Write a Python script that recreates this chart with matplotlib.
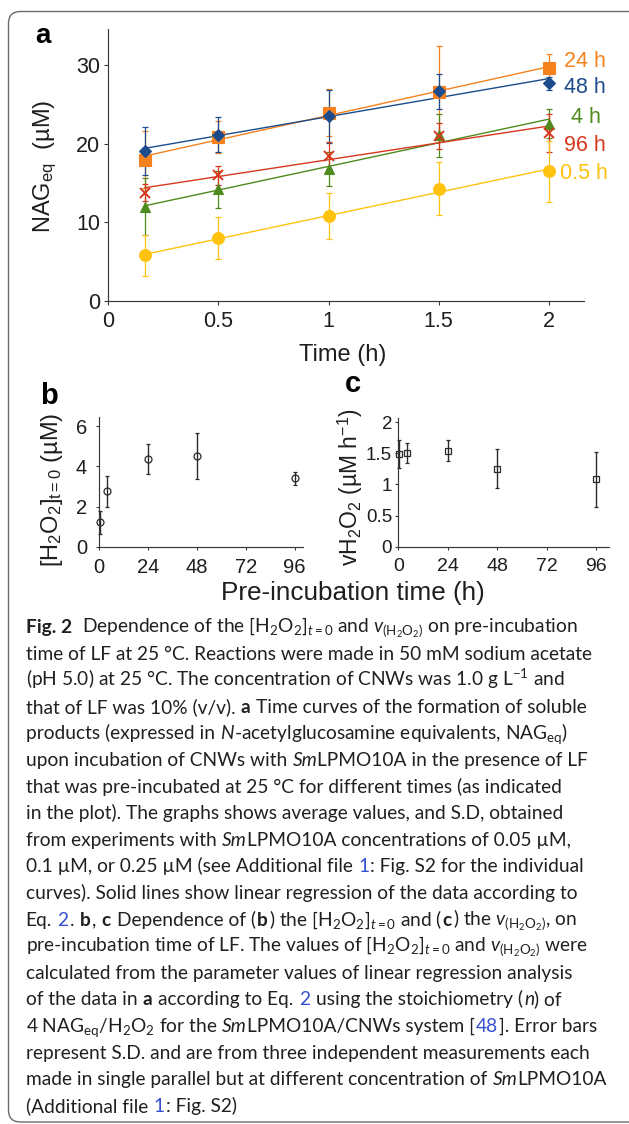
import re
import numpy as np
import matplotlib
matplotlib.use("Agg")
import matplotlib.pyplot as plt
from matplotlib.patches import FancyBboxPatch
from matplotlib.ticker import FuncFormatter
from matplotlib.transforms import IdentityTransform

# ---------------- data ----------------
time_h = [1 / 6, 0.5, 1.0, 1.5, 2.0]
series_labels = ["24 h", "48 h", "4 h", "96 h", "0.5 h"]
nag_24h = [18.0, 20.9, 24.0, 26.6, 29.7]
err_24h = [3.6, 2.0, 3.0, 5.9, 1.7]
nag_48h = [19.1, 21.2, 23.5, 26.7, 27.7]
err_48h = [3.0, 2.2, 3.4, 2.2, 0.8]
nag_4h = [12.0, 14.2, 16.8, 21.1, 22.6]
err_4h = [3.6, 2.3, 2.2, 2.7, 1.9]
nag_96h = [13.8, 16.0, 18.5, 21.0, 21.4]
err_96h = [1.1, 1.2, 1.7, 1.7, 2.4]
nag_05h = [5.8, 8.0, 10.8, 14.3, 16.5]
err_05h = [2.6, 2.7, 2.9, 3.4, 3.9]

preinc_h = [0.5, 4, 24, 48, 96]
h2o2_t0 = [1.21, 2.75, 4.36, 4.53, 3.40]
h2o2_t0_err = [0.58, 0.76, 0.76, 1.14, 0.34]
v_h2o2 = [1.49, 1.50, 1.54, 1.25, 1.08]
v_h2o2_err = [0.22, 0.16, 0.17, 0.31, 0.44]

a_xticks = [0, 0.5, 1, 1.5, 2]
a_yticks = [0, 10, 20, 30]
bc_xticks = [0, 24, 48, 72, 96]
b_yticks = [0, 2, 4, 6]
c_yticks = [0, 0.5, 1, 1.5, 2]

CAPTION = [
    r"**Fig. 2**  Dependence of the [H$_{\mathregular{2}}$O$_{\mathregular{2}}$]$_{t\mathregular{=0}}$ and $v_{\mathregular{(H_2O_2)}}$ on pre-incubation",
    r"time of LF at 25 °C. Reactions were made in 50 mM sodium acetate",
    r"(pH 5.0) at 25 °C. The concentration of CNWs was 1.0 g L$^{\mathregular{-1}}$ and",
    r"that of LF was 10% (v/v). **a** Time curves of the formation of soluble",
    r"products (expressed in //N//-acetylglucosamine equivalents, NAG$_{\mathregular{eq}}$)",
    r"upon incubation of CNWs with //Sm//LPMO10A in the presence of LF",
    r"that was pre-incubated at 25 °C for different times (as indicated",
    r"in the plot). The graphs shows average values, and S.D, obtained",
    r"from experiments with //Sm//LPMO10A concentrations of 0.05 µM,",
    r"0.1 µM, or 0.25 µM (see Additional file {{1}}: Fig. S2 for the individual",
    r"curves). Solid lines show linear regression of the data according to",
    r"Eq. {{2}}. **b**, **c** Dependence of (**b**) the [H$_{\mathregular{2}}$O$_{\mathregular{2}}$]$_{t\mathregular{=0}}$ and (**c**) the $v_{\mathregular{(H_2O_2)}}$, on",
    r"pre-incubation time of LF. The values of [H$_{\mathregular{2}}$O$_{\mathregular{2}}$]$_{t\mathregular{=0}}$ and $v_{\mathregular{(H_2O_2)}}$ were",
    r"calculated from the parameter values of linear regression analysis",
    r"of the data in **a** according to Eq. {{2}} using the stoichiometry (//n//) of",
    r"4 NAG$_{\mathregular{eq}}$/H$_{\mathregular{2}}$O$_{\mathregular{2}}$ for the //Sm//LPMO10A/CNWs system [{{48}}]. Error bars",
    r"represent S.D. and are from three independent measurements each",
    r"made in single parallel but at different concentration of //Sm//LPMO10A",
    r"(Additional file {{1}}: Fig. S2)",
]

# ---------------- style ----------------
PLOT_FONT = ["Liberation Sans", "DejaVu Sans"]
CAP_FONT = ["Lato", "DejaVu Sans"]
plt.rcParams["font.family"] = PLOT_FONT
plt.rcParams["mathtext.fontset"] = "custom"
plt.rcParams["mathtext.rm"] = "Lato"
plt.rcParams["mathtext.it"] = "Lato:italic"
plt.rcParams["mathtext.bf"] = "Lato:bold"

W, H = 629, 1124
fig = plt.figure(figsize=(W / 100, H / 100), dpi=100)
renderer = fig.canvas.get_renderer()


def fx(px):
    return px / W


def fy(py):
    return 1 - py / H


AX_COL = "#383838"
TXT_COL = "#1e1e1e"

# frame
frame = FancyBboxPatch((8.5, H - 1122), 700, 1122 - 11.5,
                       boxstyle="round,pad=0,rounding_size=12",
                       transform=IdentityTransform(), fill=False,
                       edgecolor="#6a6a6a", linewidth=1.0)
fig.add_artist(frame)


def style_axes(ax, tlen, xpad, ypad, lsize):
    for s in ("top", "right"):
        ax.spines[s].set_visible(False)
    for s in ("left", "bottom"):
        ax.spines[s].set_color(AX_COL)
        ax.spines[s].set_linewidth(0.85)
    ax.tick_params(axis="both", direction="out", length=tlen, width=0.8,
                   colors=AX_COL, labelcolor=TXT_COL, labelsize=lsize)
    ax.tick_params(axis="x", pad=xpad)
    ax.tick_params(axis="y", pad=ypad)
    ax.xaxis.set_major_formatter(FuncFormatter(lambda v, p: "%g" % v))
    ax.yaxis.set_major_formatter(FuncFormatter(lambda v, p: "%g" % v))
    ax.patch.set_alpha(0)


# ---------------- panel a ----------------
ax_a = fig.add_axes([fx(108.3), fy(301), fx(584) - fx(108.3), (301 - 29.3) / H])
ax_a.set_xlim(0, 2.16)
ax_a.set_ylim(0, 34.6)
ax_a.set_xticks(a_xticks)
ax_a.set_yticks(a_yticks)
style_axes(ax_a, 2.9, 4.5, 3.1, 15.5)

series = [nag_24h, nag_48h, nag_4h, nag_96h, nag_05h]
errors = [err_24h, err_48h, err_4h, err_96h, err_05h]
colors = ["#F5821F", "#1C4C8C", "#4E8A1E", "#D6381E", "#FFC20E"]
markers = ["s", "D", "^", "x", "o"]
msizes = [8.5, 6.3, 7.5, 7.5, 8.5]
label_pos = [(2.068, 29.77), (2.068, 26.54), (2.099, 22.64), (2.068, 19.11), (2.053, 15.50)]

for y, e, c, m, ms, lab, (lx, ly) in zip(series, errors, colors, markers, msizes,
                                          series_labels, label_pos):
    coef = np.polyfit(time_h, y, 1)
    xs = np.array([time_h[0], time_h[-1]])
    ax_a.plot(xs, np.polyval(coef, xs), color=c, lw=1.0, zorder=2)
    ax_a.errorbar(time_h, y, yerr=e, fmt="none", ecolor=c, elinewidth=0.9,
                  capsize=2.5, capthick=0.9, zorder=3)
    ax_a.plot(time_h, y, ls="none", marker=m, ms=ms, color=c, mec=c,
              mew=1.4 if m == "x" else 0.8, zorder=4, clip_on=False)
    ax_a.text(lx, ly, lab, color=c, fontsize=15.5, ha="left", va="baseline",
              clip_on=False)

fig.text(fx(35), fy(43.3), "a", fontsize=20, fontweight="bold", color="black",
         va="baseline", ha="left")
fig.text(fx(342.4), fy(361), "Time (h)", fontsize=17, color=TXT_COL,
         ha="center", va="baseline")
fig.text(fx(50.5), fy(166.7), r"NAG$_{\mathregular{eq}}$  (µM)", fontsize=17,
         color=TXT_COL, rotation=90, rotation_mode="anchor", ha="center",
         va="baseline")

# ---------------- panel b ----------------
ax_b = fig.add_axes([fx(99), fy(546.7), (302.7 - 99) / W, (546.7 - 416.7) / H])
ax_b.set_xlim(0, 100)
ax_b.set_ylim(0, 6.47)
ax_b.set_xticks(bc_xticks)
ax_b.set_yticks(b_yticks)
style_axes(ax_b, 2.4, 5.8, 6.3, 14.5)
ax_b.errorbar(preinc_h, h2o2_t0, yerr=h2o2_t0_err, fmt="o", ms=5.0, mfc="none",
              mec="#2a2a2a", mew=0.9, ecolor="#2a2a2a", elinewidth=1.0,
              capsize=1.6, capthick=1.0, clip_on=False)

# ---------------- panel c ----------------
ax_c = fig.add_axes([fx(398.3), fy(546.7), (609.3 - 398.3) / W, (546.7 - 417.7) / H])
ax_c.set_xlim(0, 102.5)
ax_c.set_ylim(0, 2.07)
ax_c.set_xticks(bc_xticks)
ax_c.set_yticks(c_yticks)
style_axes(ax_c, 2.4, 5.8, 2.0, 14.0)
ax_c.tick_params(axis="y", labelsize=13.5)
ax_c.errorbar(preinc_h, v_h2o2, yerr=v_h2o2_err, fmt="s", ms=4.6, mfc="none",
              mec="#2a2a2a", mew=0.9, ecolor="#2a2a2a", elinewidth=1.0,
              capsize=1.6, capthick=1.0, clip_on=False)

fig.text(fx(40), fy(404), "b", fontsize=21, fontweight="bold", color="black",
         va="baseline", ha="left")
fig.text(fx(345), fy(391.7), "c", fontsize=21, fontweight="bold", color="black",
         va="baseline", ha="left")
fig.text(fx(58), fy(490),
         r"[H$_{\mathregular{2}}$O$_{\mathregular{2}}$]$_{\mathregular{t=0}}$ (µM)",
         fontsize=17, color=TXT_COL, rotation=90, rotation_mode="anchor",
         ha="center", va="baseline")
fig.text(fx(357.5), fy(487),
         r"vH$_{\mathregular{2}}$O$_{\mathregular{2}}$ (µM h$^{\mathregular{-1}}$)",
         fontsize=16.5, color=TXT_COL, rotation=90, rotation_mode="anchor",
         ha="center", va="baseline")
fig.text(fx(352.5), fy(600), "Pre-incubation time (h)", fontsize=18.8,
         color=TXT_COL, ha="center", va="baseline")

# ---------------- caption ----------------
TAG_RE = re.compile(r"(\*\*.+?\*\*|//.+?//|\{\{.+?\}\})")


def parse(line):
    runs = []
    for p in TAG_RE.split(line):
        if not p:
            continue
        if p.startswith("**"):
            runs.append((p[2:-2], "bold"))
        elif p.startswith("//"):
            runs.append((p[2:-2], "italic"))
        elif p.startswith("{{"):
            runs.append((p[2:-2], "link"))
        else:
            runs.append((p, "normal"))
    return runs


def run_kw(style, fs):
    kw = dict(fontsize=fs, family=CAP_FONT, color="#231f20")
    if style == "bold":
        kw["fontweight"] = "bold"
    elif style == "italic":
        kw["fontstyle"] = "italic"
    elif style == "link":
        kw["color"] = "#3550D0"
    return kw


def text_w(s, kw):
    t = fig.text(0, 0, s, **kw)
    w = t.get_window_extent(renderer).width
    t.remove()
    return w


_space = {}


def space_w(kw):
    key = (kw.get("fontweight"), kw.get("fontstyle"), kw["fontsize"])
    if key not in _space:
        _space[key] = text_w("a a", kw) - text_w("aa", kw)
    return _space[key]


def line_width(line, fs, draw_at=None):
    x = 0.0 if draw_at is None else draw_at[0]
    for text, st in parse(line):
        kw = run_kw(st, fs)
        lead = len(text) - len(text.lstrip(" "))
        trail = len(text) - len(text.rstrip(" "))
        core = text.strip(" ")
        sw = space_w(kw)
        x += lead * sw
        if core:
            if "$" in core:
                gap = 0.5
            elif st == "italic":
                gap = -0.3
            else:
                gap = 0.05 * fs * 100 / 72
            if draw_at is None:
                w = text_w(core, kw)
            else:
                t = fig.text(x / W, 1 - draw_at[1] / H, core, ha="left",
                             va="baseline", **kw)
                w = t.get_window_extent(renderer).width
            x += w + gap
        x += trail * sw
    return x


ref_fs = 10.0
target = 594 - 25.5
cap_fs = ref_fs * target / line_width(CAPTION[1], ref_fs)

x0 = 25.5
base0 = 633.0
step = 26.6
for i, line in enumerate(CAPTION):
    line_width(line, cap_fs, draw_at=(x0, base0 + i * step))

fig.savefig("out.png", dpi=100)
